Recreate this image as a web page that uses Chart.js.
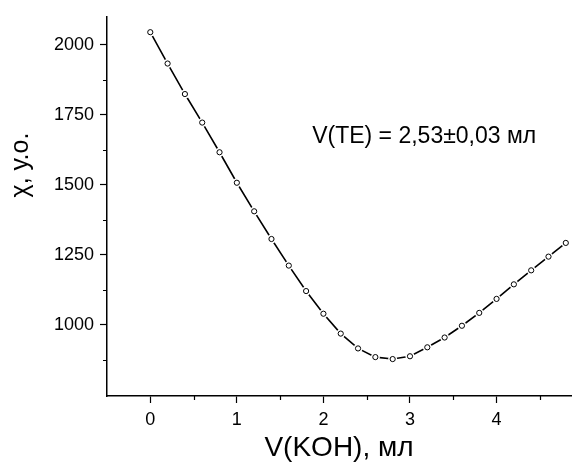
<!DOCTYPE html>
<html>
<head>
<meta charset="utf-8">
<script src="https://cdn.jsdelivr.net/npm/chart.js@4"></script>
<style>
html, body { margin: 0; background: #fff; }
#wrap { width: 576px; height: 468px; }
</style>
</head>
<body>
<div id="wrap"><canvas id="chart" width="576" height="468"></canvas></div>
<script>
// титрование: объём КОН (мл) и χ (у.о.)
const volumes = [0, 0.2, 0.4, 0.6, 0.8, 1.0, 1.2, 1.4, 1.6, 1.8, 2.0, 2.2, 2.4, 2.6, 2.8, 3.0, 3.2, 3.4, 3.6, 3.8, 4.0, 4.2, 4.4, 4.6, 4.8];
const chi = [2045, 1933, 1824, 1722, 1616, 1507, 1405, 1306, 1211, 1120, 1039, 968, 915, 884, 877, 887, 919, 954, 996, 1042, 1092, 1144, 1194, 1243, 1292];
const xTicks = [0, 0.5, 1, 1.5, 2, 2.5, 3, 3.5, 4, 4.5];
const yTicks = [875, 1000, 1125, 1250, 1375, 1500, 1625, 1750, 1875, 2000];
const xTitle = 'V(KOH), мл';
const yTitle = 'χ, у.о.';
const note = 'V(TE) = 2,53±0,03 мл';
const noteAt = { x: 1.87, y: 1673 };

const pts = volumes.map((v, i) => ({ x: v, y: chi[i] }));
const font = 'Liberation Sans, Arial, sans-serif';
const isMajorX = v => Number.isInteger(v);
const isMajorY = v => v % 250 === 0;

// короткие промежуточные риски + подписи
const extras = {
    id: 'extras',
    afterDraw(chart) {
        const ctx = chart.ctx;
        const xs = chart.scales.x, ys = chart.scales.y;
        ctx.save();
        ctx.strokeStyle = '#000';
        ctx.lineWidth = 1.2;
        ctx.beginPath();
        xTicks.filter(v => !isMajorX(v)).forEach(v => {
            const px = Math.round(xs.getPixelForValue(v)) + 0.5;
            ctx.moveTo(px, ys.bottom); ctx.lineTo(px, ys.bottom + 4);
        });
        yTicks.filter(v => !isMajorY(v)).forEach(v => {
            const py = Math.round(ys.getPixelForValue(v)) + 0.5;
            ctx.moveTo(xs.left, py); ctx.lineTo(xs.left - 4, py);
        });
        ctx.stroke();

        ctx.fillStyle = '#000';
        ctx.font = '23px ' + font;
        ctx.textAlign = 'left';
        ctx.textBaseline = 'middle';
        ctx.fillText(note, xs.getPixelForValue(noteAt.x), ys.getPixelForValue(noteAt.y));

        ctx.translate(21, 165);
        ctx.rotate(-Math.PI / 2);
        ctx.font = '25px ' + font;
        ctx.textAlign = 'center';
        ctx.fillText(yTitle, 0, 0);
        ctx.restore();
    }
};

new Chart(document.getElementById('chart'), {
    type: 'scatter',
    data: {
        datasets: [
            { data: pts, showLine: true, borderColor: '#000', borderWidth: 1.6, pointRadius: 0, order: 3 },
            { data: pts, pointRadius: 4.5, pointBackgroundColor: '#fff', pointBorderColor: '#fff', pointBorderWidth: 0, order: 2 },
            { data: pts, pointRadius: 2.6, pointBackgroundColor: '#fff', pointBorderColor: '#000', pointBorderWidth: 1, order: 1 }
        ]
    },
    options: {
        responsive: false,
        animation: false,
        events: [],
        layout: { padding: { top: 12, right: 2, left: 0, bottom: 0 } },
        plugins: { legend: { display: false }, tooltip: { enabled: false } },
        scales: {
            x: {
                type: 'linear', min: -0.5, max: 4.86,
                afterBuildTicks: s => { s.ticks = xTicks.map(v => ({ value: v })); },
                afterFit: s => { s.height = 72; },
                border: { display: true, color: '#000', width: 1.5 },
                grid: {
                    drawOnChartArea: false, tickLength: 7, tickWidth: 1.2,
                    tickColor: c => isMajorX(c.tick.value) ? '#000' : 'rgba(0,0,0,0)'
                },
                ticks: {
                    color: '#000', padding: 6, maxRotation: 0, autoSkip: false,
                    font: { family: font, size: 18 },
                    callback: v => isMajorX(v) ? String(v) : ''
                },
                title: { display: true, text: xTitle, color: '#000', font: { family: font, size: 28 }, padding: { top: 0, bottom: 3 } }
            },
            y: {
                type: 'linear', min: 745, max: 2100,
                afterBuildTicks: s => { s.ticks = yTicks.map(v => ({ value: v })); },
                afterFit: s => { s.width = 107; },
                border: { display: true, color: '#000', width: 1.5 },
                grid: {
                    drawOnChartArea: false, tickLength: 7, tickWidth: 1.2,
                    tickColor: c => isMajorY(c.tick.value) ? '#000' : 'rgba(0,0,0,0)'
                },
                ticks: {
                    color: '#000', padding: 6, autoSkip: false,
                    font: { family: font, size: 18 },
                    callback: v => isMajorY(v) ? String(v) : ''
                }
            }
        }
    },
    plugins: [extras]
});
</script>
</body>
</html>
